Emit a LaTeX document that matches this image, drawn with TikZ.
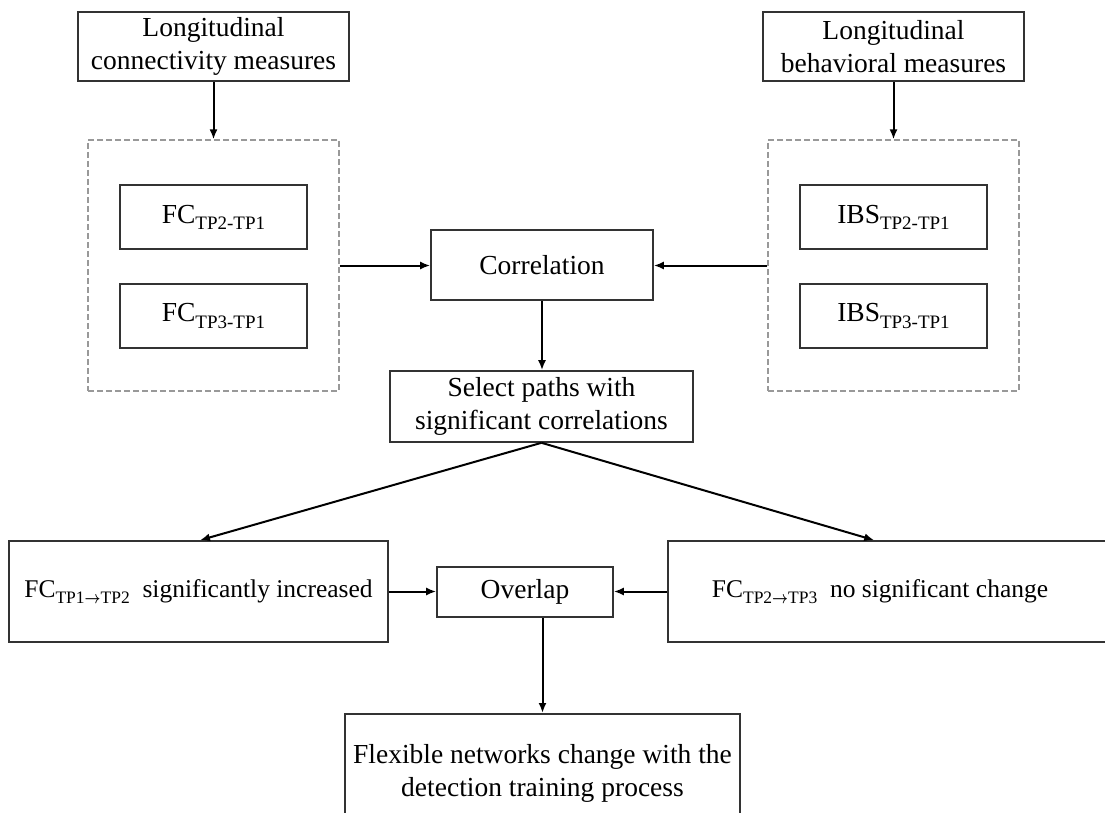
\documentclass[tikz,border=0pt]{standalone}
\usepackage{fontspec}
\setmainfont{Liberation Serif}
\usetikzlibrary{arrows.meta}
% lowered, smaller subscript used after FC / IBS
\newcommand\tpsub[1]{\raisebox{-0.22em}{\fontsize{19}{19}\selectfont #1}}
% same, for the smaller outcome texts
\newcommand\tpsubs[1]{\raisebox{-0.22em}{\fontsize{17.5}{17.5}\selectfont #1}}
% compact arrow inside subscripts
\newcommand\tparrow{\scalebox{0.8}[1]{\(\boldsymbol{\rightarrow}\)}}
\usepackage{amsmath}
\usepackage{amsbsy}

\begin{document}
\begin{tikzpicture}[x=1pt,y=-1pt,
  box/.style={draw=black!80, line width=1.6pt, inner sep=0pt, align=center,
              font=\fontsize{27.5}{33}\selectfont},
  label/.style={inner sep=0pt, align=center, font=\fontsize{27.5}{33}\selectfont},
  small/.style={font=\fontsize{25.5}{30}\selectfont},
  grp/.style={draw=black!40, dash pattern=on 6pt off 3pt, line width=1.2pt, inner sep=0pt},
  link/.style={line width=2pt, -{Latex[length=10pt,width=8pt]}},
]
\useasboundingbox (0,0) rectangle (1105,813);
\clip (0,0) rectangle (1105,813);

% inputs
\node[box, minimum width=271pt, minimum height=69pt] (conn) at (213.5,46.5)
  {Longitudinal\\connectivity measures};
\node[box, minimum width=261pt, minimum height=69pt] (behav) at (893.5,46.5)
  {Longitudinal\\behavioral measures};

% measure groups
\node[grp, minimum width=251pt, minimum height=251pt] (fcgrp) at (213.5,265.5) {};
\node[grp, minimum width=251pt, minimum height=251pt] (ibsgrp) at (893.5,265.5) {};
\node[box, minimum width=187pt, minimum height=64pt] (fca) at (213.5,217) {FC\tpsub{TP2-TP1}};
\node[box, minimum width=187pt, minimum height=64pt] (fcb) at (213.5,316) {FC\tpsub{TP3-TP1}};
\node[box, minimum width=187pt, minimum height=64pt] (ibsa) at (893.5,217) {IBS\tpsub{TP2-TP1}};
\node[box, minimum width=187pt, minimum height=64pt] (ibsb) at (893.5,316) {IBS\tpsub{TP3-TP1}};

% analysis
\node[box, minimum width=222pt, minimum height=70pt] (corr) at (542,265) {Correlation};
\node[box, minimum width=303pt, minimum height=71pt] (sel) at (541.5,406.5)
  {Select paths with\\significant correlations};

% outcomes
\node[box, small, minimum width=379pt, minimum height=101pt] (inc) at (198.5,591.5)
  {FC\tpsubs{TP1\tparrow TP2}\ \ significantly increased};
\node[box, minimum width=452pt, minimum height=101pt] (nochg) at (894,591.5) {};
\node[label, small] (nochgtext) at (880,591.5) {FC\tpsubs{TP2\tparrow TP3}\ \ no significant change};
\node[box, minimum width=176pt, minimum height=50pt] (ovl) at (525,592) {Overlap};

% conclusion
\node[box, minimum width=395pt, minimum height=140pt, anchor=north] (final) at (542.5,713) {};
\node[label] (finaltext) at (542.5,773)
  {Flexible networks change with the\\detection training process};

% connectors
\draw[link] (conn) -- (fcgrp);
\draw[link] (behav) -- (ibsgrp);
\draw[link] (fcgrp.east) -- (fcgrp.east -| corr.west);
\draw[link] (ibsgrp.west) -- (ibsgrp.west -| corr.east);
\draw[link] (corr.south) -- (corr.south |- sel.north);
\draw[link] (sel.south) -- ([xshift=1.5pt]inc.north);
\draw[link] (sel.south) -- ([xshift=207pt]nochg.north west);
\draw[link] (inc.east) -- (inc.east -| ovl.west);
\draw[link] (nochg.west) -- (nochg.west -| ovl.east);
\draw[link] (final.north |- ovl.south) -- (final.north);
\end{tikzpicture}
\end{document}
